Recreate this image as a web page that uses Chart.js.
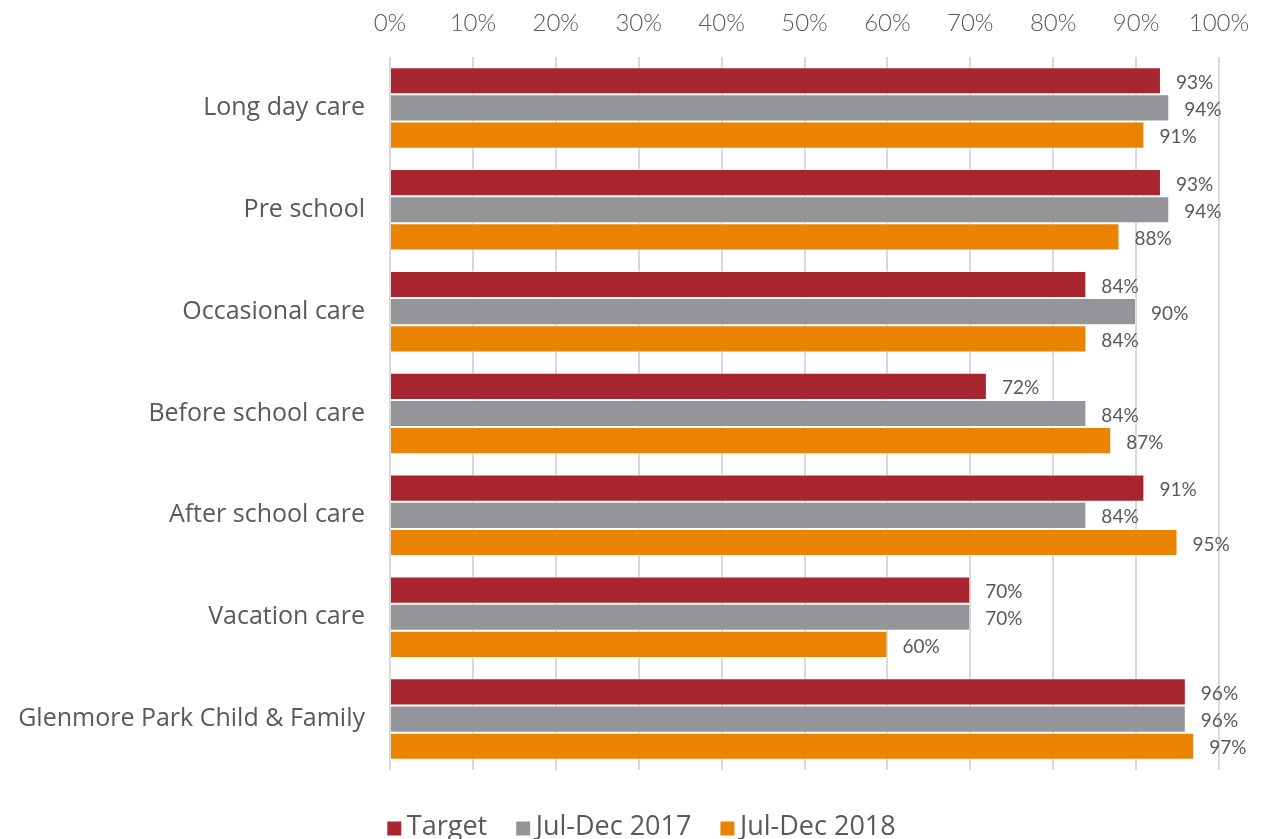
<!DOCTYPE html>
<html><head><meta charset="utf-8">
<script src="https://cdn.jsdelivr.net/npm/chart.js@4/dist/chart.umd.min.js"></script>
<style>html,body{margin:0;padding:0;background:#fff;}#wrap{width:1263px;height:839px;position:relative;}</style>
</head><body><div id="wrap"><canvas id="c" width="1263" height="839"></canvas></div>
<script>
const categories = ["Long day care","Pre school","Occasional care","Before school care","After school care","Vacation care","Glenmore Park Child & Family"];
const seriesNames = ["Target","Jul-Dec 2017","Jul-Dec 2018"];
const target = [93,93,84,72,91,70,96];
const jul2017 = [94,94,90,84,84,70,96];
const jul2018 = [91,88,84,87,95,60,97];
const tickValues = [0,10,20,30,40,50,60,70,80,90,100];
const colors = ["#A8262F","#939598","#E98300"];
const FONT = "Lato, 'Open Sans', sans-serif";
const FONT2 = "'Open Sans', sans-serif";
const TXT = "#595959";

const labelPlugin = {
  id:'barLabels',
  afterDatasetsDraw(chart){
    const ctx = chart.ctx;
    ctx.save();
    ctx.font = "19px " + FONT;
    ctx.fillStyle = TXT;
    ctx.textAlign = 'left';
    ctx.textBaseline = 'middle';
    chart.data.datasets.forEach((ds,i)=>{
      chart.getDatasetMeta(i).data.forEach((bar,j)=>{
        ctx.fillText(ds.data[j] + '%', bar.x + 15, bar.y + 2);
      });
    });
    ctx.restore();
  }
};

const legendBoxes = {
  id:'legendBoxes',
  afterDraw(chart){
    const lg = chart.legend;
    if (!lg || !lg.legendHitBoxes) return;
    const ctx = chart.ctx;
    ctx.save();
    lg.legendHitBoxes.forEach((hb,i)=>{
      ctx.fillStyle = colors[i];
      const cy = hb.top + hb.height/2 + 1;
      ctx.fillRect(hb.left + 8, cy - 7, 14, 14);
    });
    ctx.restore();
  }
};

new Chart(document.getElementById('c'), {
  type:'bar',
  data:{
    labels: categories,
    datasets: [target, jul2017, jul2018].map((d,i)=>({
      label: seriesNames[i], data: d, backgroundColor: colors[i],
      borderColor: 'rgba(255,255,255,0.6)', borderWidth: 1,
      categoryPercentage: 0.8, barPercentage: 1.0
    }))
  },
  options:{
    indexAxis:'y', responsive:false, animation:false,
    layout:{padding:{left:0,right:-12,top:0,bottom:-12}},
    scales:{
      x:{position:'top', min:0, max:100,
        afterBuildTicks(a){ a.ticks = tickValues.map(v=>({value:v})); },
        afterFit(a){ a.height = 57; a.paddingRight = 44; a.paddingLeft = 0; },
        ticks:{callback:v=>v+'%', font:{family:FONT,size:24,weight:300}, color:TXT, padding:19},
        grid:{color:'#D9D9D9', lineWidth:2, drawTicks:false},
        border:{display:false}},
      y:{afterFit(a){ a.width = 390; },
        ticks:{font:{family:FONT2,size:25}, color:TXT, padding:17},
        grid:{display:false}, border:{display:false}}
    },
    plugins:{
      legend:{position:'bottom',
        title:{display:true, text:'', font:{size:10, lineHeight:2.3}, padding:0},
        labels:{font:{family:FONT2,size:27}, color:TXT, boxWidth:14, boxHeight:14, padding:21,
          generateLabels(chart){
            const items = Chart.defaults.plugins.legend.labels.generateLabels(chart);
            items.forEach(it=>{ it.fillStyle='rgba(0,0,0,0)'; it.strokeStyle='rgba(0,0,0,0)'; it.lineWidth=0; });
            return items;
          }}},
      tooltip:{enabled:false}
    }
  },
  plugins:[labelPlugin, legendBoxes]
});
</script></body></html>
